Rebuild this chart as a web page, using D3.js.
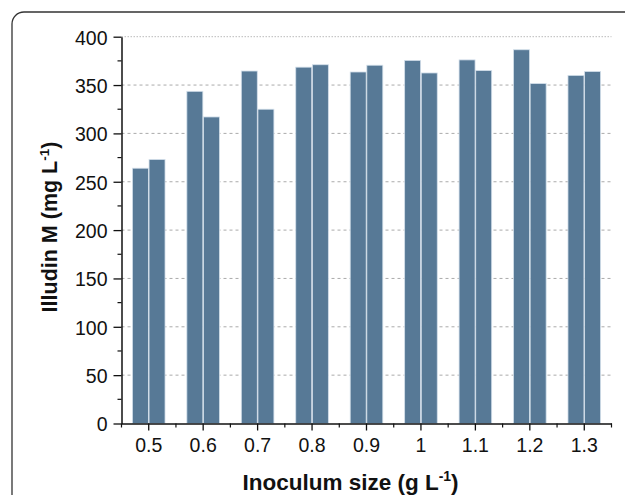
<!DOCTYPE html>
<html>
<head>
<meta charset="utf-8">
<script src="https://cdn.jsdelivr.net/npm/d3@7"></script>
<style>
  body { margin: 0; background: #fff; }
  text { font-family: "Liberation Sans", Arial, sans-serif; }
</style>
</head>
<body>
<svg id="chart" width="625" height="495"></svg>
<script>
// inoculum sizes and the two measured runs (mg/L)
var sizes = ["0.5", "0.6", "0.7", "0.8", "0.9", "1", "1.1", "1.2", "1.3"];
var runA = [264, 343.5, 364.5, 368.5, 363.5, 375.5, 376, 386.5, 360];
var runB = [273, 317, 325, 371, 370.5, 362.5, 365, 351.5, 364];
var yTicks = [0, 50, 100, 150, 200, 250, 300, 350, 400];

var svg = d3.select("#chart");

// frame round the figure, only its top left corner is in view
svg.append("rect")
    .attr("x", 12).attr("y", 12)
    .attr("width", 720).attr("height", 600)
    .attr("rx", 12)
    .attr("fill", "none")
    .attr("stroke", "#333")
    .attr("stroke-width", 1.3);

var plotL = 121.5, plotR = 611.5, plotT = 36.7, plotB = 423.5;

var x = d3.scaleBand().domain(sizes).range([plotL, plotR]);
var y = d3.scaleLinear().domain([0, 400]).range([plotB, plotT]);
var inner = d3.scaleBand().domain([0, 1]).range([0, 32.6]).paddingInner(0.04);

// grid lines
svg.append("g").selectAll("line")
    .data(yTicks.filter(function (d) { return d > 0; }))
    .enter().append("line")
    .attr("x1", plotL).attr("x2", plotR)
    .attr("y1", function (d) { return y(d); })
    .attr("y2", function (d) { return y(d); })
    .attr("stroke", function (d) { return d == 400 ? "#bbb" : "#aaa"; })
    .attr("stroke-width", 1)
    .attr("stroke-dasharray", function (d) { return d == 400 ? "1.5,1.5" : "3,3"; });

// bars
var groups = svg.append("g").selectAll("g")
    .data(sizes)
    .enter().append("g")
    .attr("transform", function (d) { return "translate(" + (x(d) + x.bandwidth() / 2 - 16.3) + ",0)"; });

groups.selectAll("rect")
    .data(function (d, i) { return [runA[i], runB[i]]; })
    .enter().append("rect")
    .attr("x", function (d, j) { return inner(j); })
    .attr("width", inner.bandwidth())
    .attr("y", function (d) { return y(d); })
    .attr("height", function (d) { return y(0) - y(d); })
    .attr("fill", "#577996")
    .attr("stroke", "#d3dfea")
    .attr("stroke-width", 0.8);

// y axis
var yAxis = svg.append("g")
    .attr("transform", "translate(" + plotL + ",0)")
    .call(d3.axisLeft(y).tickValues(yTicks).tickSizeInner(8).tickSizeOuter(0).tickPadding(6));
yAxis.select(".domain").attr("stroke", "#111").attr("stroke-width", 1.5);
yAxis.selectAll(".tick line").attr("stroke", "#111").attr("stroke-width", 1.3);
yAxis.selectAll("text").attr("font-size", 19.5).attr("fill", "#111")
    .attr("font-family", "Liberation Sans, Arial, sans-serif").attr("dy", "0.38em");
yAxis.selectAll(".minor").data(d3.range(25, 400, 50))
    .enter().append("line").attr("class", "minor")
    .attr("x1", -4).attr("x2", 0)
    .attr("y1", function (d) { return y(d); }).attr("y2", function (d) { return y(d); })
    .attr("stroke", "#111").attr("stroke-width", 1.2);

// x axis
var xAxis = svg.append("g")
    .attr("transform", "translate(0," + plotB + ")")
    .call(d3.axisBottom(x).tickSizeInner(7).tickSizeOuter(0).tickPadding(8));
xAxis.select(".domain").attr("stroke", "#111").attr("stroke-width", 1.5);
xAxis.selectAll(".tick line").attr("stroke", "#111").attr("stroke-width", 1.3);
xAxis.selectAll("text").attr("font-size", 19.5).attr("fill", "#111")
    .attr("font-family", "Liberation Sans, Arial, sans-serif");
xAxis.selectAll(".minor").data(d3.range(sizes.length + 1))
    .enter().append("line").attr("class", "minor")
    .attr("x1", function (i) { return plotL + i * x.step(); })
    .attr("x2", function (i) { return plotL + i * x.step(); })
    .attr("y1", 0).attr("y2", 4)
    .attr("stroke", "#111").attr("stroke-width", 1.2);

// axis titles
var xt = svg.append("text")
    .attr("x", (plotL + plotR) / 2 - 16).attr("y", 490)
    .attr("text-anchor", "middle")
    .attr("font-size", 22.5).attr("font-weight", "bold").attr("fill", "#111");
xt.append("tspan").text("Inoculum size (g L");
xt.append("tspan").attr("font-size", 14).attr("dy", -9).text("-1");
xt.append("tspan").attr("dy", 9).text(")");

var yt = svg.append("text")
    .attr("transform", "translate(57," + 227 + ") rotate(-90)")
    .attr("text-anchor", "middle")
    .attr("font-size", 21.5).attr("font-weight", "bold").attr("fill", "#111");
yt.append("tspan").text("Illudin M (mg L");
yt.append("tspan").attr("font-size", 13.5).attr("dy", -8).text("-1");
yt.append("tspan").attr("dy", 8).text(")");
</script>
</body>
</html>
